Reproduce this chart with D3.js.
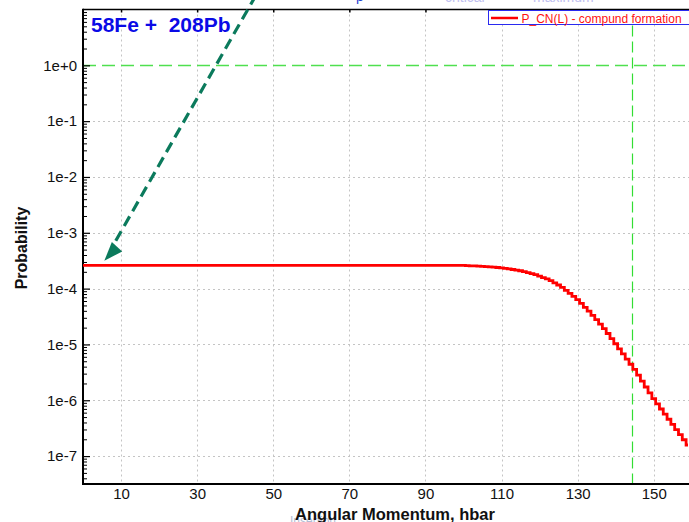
<!DOCTYPE html>
<html>
<head>
<meta charset="utf-8">
<script src="https://cdn.jsdelivr.net/npm/d3@7/dist/d3.min.js"></script>
<style>
  html, body { margin: 0; padding: 0; background: #fff; }
  svg { display: block; font-family: "Liberation Sans", Arial, sans-serif; }
</style>
</head>
<body>
<svg id="chart" width="689" height="522"></svg>
<script>
// Compound-nucleus formation probability versus angular momentum
const reactionTitle = "58Fe +  208Pb";
const seriesName = "P_CN(L) - compund formation";
const xAxisTitle = "Angular Momentum, hbar";
const yAxisTitle = "Probability";

const angularMomentum = [
  0, 100, 101, 102, 103, 104, 105, 106, 107, 108, 109,
  110, 111, 112, 113, 114, 115, 116, 117, 118, 119,
  120, 121, 122, 123, 124, 125, 126, 127, 128, 129,
  130, 131, 132, 133, 134, 135, 136, 137, 138, 139,
  140, 141, 142, 143, 144, 145, 146, 147, 148, 149,
  150, 151, 152, 153, 154, 155, 156, 157, 158, 159
];
const probabilityCN = [
  2.60e-4, 2.60e-4, 2.58e-4, 2.56e-4, 2.55e-4, 2.53e-4, 2.51e-4, 2.48e-4, 2.45e-4, 2.42e-4, 2.39e-4,
  2.35e-4, 2.30e-4, 2.25e-4, 2.20e-4, 2.15e-4, 2.09e-4, 2.02e-4, 1.94e-4, 1.86e-4, 1.78e-4,
  1.68e-4, 1.58e-4, 1.49e-4, 1.39e-4, 1.27e-4, 1.16e-4, 1.05e-4, 9.33e-5, 8.22e-5, 7.24e-5,
  6.35e-5, 5.43e-5, 4.62e-5, 3.94e-5, 3.33e-5, 2.79e-5, 2.32e-5, 1.92e-5, 1.57e-5, 1.27e-5,
  1.03e-5, 8.34e-6, 6.75e-6, 5.46e-6, 4.42e-6, 3.57e-6, 2.81e-6, 2.20e-6, 1.73e-6, 1.36e-6,
  1.07e-6, 8.63e-7, 6.98e-7, 5.65e-7, 4.57e-7, 3.70e-7, 2.99e-7, 2.42e-7, 1.96e-7, 1.58e-7
];

const xTickValues = [10, 30, 50, 70, 90, 110, 130, 150];
const yTickValues = [1e0, 1e-1, 1e-2, 1e-3, 1e-4, 1e-5, 1e-6, 1e-7];
const xDomain = [0, 160];
const yDomain = [Math.pow(10, -7.5), 10];

const unitLevel = 1;          // horizontal reference at probability 1
const criticalL = 144.4;      // vertical reference on the angular momentum axis

// annotation arrow, in data units (tail above the frame, tip near the plateau)
const arrowTail = { l: 45.5, p: Math.pow(10, 1.26) };
const arrowTip = { l: 5.6, p: 3.15e-4 };

const svg = d3.select("#chart");
const plot = { left: 83, right: 691.8, top: 9.5, bottom: 484 };

const x = d3.scaleLinear().domain(xDomain).range([plot.left, plot.right]);
const y = d3.scaleLog().domain(yDomain).range([plot.bottom, plot.top]);

svg.append("defs").append("clipPath").attr("id", "plotClip")
  .append("rect")
  .attr("x", plot.left).attr("y", plot.top)
  .attr("width", plot.right - plot.left).attr("height", plot.bottom - plot.top);

// dotted grid (the unit level carries its own green line)
const grid = svg.append("g").attr("stroke", "#c4c4c4").attr("stroke-width", 1)
  .attr("stroke-dasharray", "2,3");
grid.selectAll("line.v").data(xTickValues).join("line")
  .attr("class", "v")
  .attr("x1", d => Math.round(x(d)) + 0.5).attr("x2", d => Math.round(x(d)) + 0.5)
  .attr("y1", plot.top).attr("y2", plot.bottom);
grid.selectAll("line.h").data(yTickValues.filter(d => d !== unitLevel)).join("line")
  .attr("class", "h")
  .attr("x1", plot.left).attr("x2", plot.right)
  .attr("y1", d => Math.round(y(d)) + 0.5).attr("y2", d => Math.round(y(d)) + 0.5);

// green reference lines
svg.append("line")
  .attr("x1", plot.left).attr("x2", plot.right)
  .attr("y1", Math.round(y(unitLevel)) + 0.5).attr("y2", Math.round(y(unitLevel)) + 0.5)
  .attr("stroke", "#4fe04f").attr("stroke-width", 1.4).attr("stroke-dasharray", "13,6");
svg.append("line")
  .attr("x1", Math.round(x(criticalL)) + 0.5).attr("x2", Math.round(x(criticalL)) + 0.5)
  .attr("y1", plot.top).attr("y2", plot.bottom)
  .attr("stroke", "#33dd33").attr("stroke-width", 1.2).attr("stroke-dasharray", "11,5");

// axes
const fmtExp = d => {
  const e = Math.round(Math.log10(d));
  return "1e" + (e >= 0 ? "+" + e : String(e));
};

const minorTicks = [];
for (let k = -8; k <= 0; k++) {
  for (let m = 2; m <= 9; m++) {
    const v = m * Math.pow(10, k);
    if (v > yDomain[0] && v < yDomain[1]) minorTicks.push(v);
  }
}

const yMinor = svg.append("g").attr("transform", `translate(${plot.left},0)`)
  .call(d3.axisLeft(y).tickValues(minorTicks).tickSize(-4).tickFormat(""));
yMinor.select(".domain").remove();
yMinor.selectAll(".tick line").attr("stroke", "#000").attr("stroke-width", 1);

const yAxis = svg.append("g").attr("transform", `translate(${plot.left},0)`)
  .call(d3.axisLeft(y).tickValues(yTickValues).tickSize(-7).tickPadding(6).tickFormat(fmtExp));
yAxis.select(".domain").remove();
yAxis.selectAll(".tick line").attr("stroke", "#000").attr("stroke-width", 1.2);
yAxis.selectAll(".tick text")
  .attr("font-family", "'Liberation Sans', Arial, sans-serif")
  .attr("font-size", 15).attr("fill", "#111");

const xAxis = svg.append("g").attr("transform", `translate(0,${plot.bottom})`)
  .call(d3.axisBottom(x).tickValues(xTickValues).tickSize(0).tickPadding(4).tickFormat(d3.format("d")));
xAxis.select(".domain").remove();
xAxis.selectAll(".tick text")
  .attr("font-family", "'Liberation Sans', Arial, sans-serif")
  .attr("font-size", 15).attr("fill", "#111");

const xTop = svg.append("g").attr("transform", `translate(0,${plot.top})`)
  .call(d3.axisTop(x).tickValues(xTickValues).tickSize(-3).tickFormat(""));
xTop.select(".domain").remove();
xTop.selectAll(".tick line").attr("stroke", "#000").attr("stroke-width", 1.5);

// frame
svg.append("line").attr("x1", plot.left).attr("x2", plot.right)
  .attr("y1", plot.top).attr("y2", plot.top)
  .attr("stroke", "#000").attr("stroke-width", 1.5);
svg.append("line").attr("x1", plot.left).attr("x2", plot.left)
  .attr("y1", plot.top - 0.75).attr("y2", plot.bottom + 1)
  .attr("stroke", "#000").attr("stroke-width", 2);
svg.append("line").attr("x1", plot.left - 1).attr("x2", plot.right)
  .attr("y1", plot.bottom).attr("y2", plot.bottom)
  .attr("stroke", "#000").attr("stroke-width", 2);

// P_CN(L) staircase
const series = angularMomentum.map((l, i) => ({ l, p: probabilityCN[i] }));
const stepLine = d3.line().x(d => x(d.l)).y(d => y(d.p)).curve(d3.curveStep);
svg.append("path")
  .datum(series)
  .attr("clip-path", "url(#plotClip)")
  .attr("fill", "none")
  .attr("stroke", "#ff0000")
  .attr("stroke-width", 2.8)
  .attr("d", stepLine);

// reaction label
svg.append("text")
  .attr("x", 91).attr("y", 31.5)
  .attr("font-size", 21).attr("font-weight", "bold")
  .attr("fill", "#0a0ae6")
  .attr("xml:space", "preserve")
  .style("white-space", "pre")
  .text(reactionTitle);

// annotation arrow
const tx = x(arrowTail.l), ty = y(arrowTail.p);
const hx = x(arrowTip.l), hy = y(arrowTip.p);
const headDir = [-0.67, 0.74];
const headLen = 19, headHalf = 7;
const bx = hx - headDir[0] * headLen, by = hy - headDir[1] * headLen;
const lineDx = hx - tx, lineDy = hy - ty;
const lineLen = Math.hypot(lineDx, lineDy);
const endT = (lineLen - 16) / lineLen;
svg.append("line")
  .attr("x1", tx).attr("y1", ty)
  .attr("x2", tx + lineDx * endT).attr("y2", ty + lineDy * endT)
  .attr("stroke", "#0b7a5c").attr("stroke-width", 3.2)
  .attr("stroke-dasharray", "11,6");
svg.append("path")
  .attr("d", d3.line()([
    [hx, hy],
    [bx + headDir[1] * headHalf, by - headDir[0] * headHalf],
    [bx - headDir[1] * headHalf, by + headDir[0] * headHalf]
  ]) + "Z")
  .attr("fill", "#0b7a5c");

// legend
const legend = svg.append("g");
legend.append("rect")
  .attr("x", 488.5).attr("y", 10.5).attr("width", 215).attr("height", 14)
  .attr("fill", "#fff").attr("stroke", "#2a2af0").attr("stroke-width", 1);
legend.append("line")
  .attr("x1", 491).attr("x2", 518).attr("y1", 18).attr("y2", 18)
  .attr("stroke", "#ff0000").attr("stroke-width", 2.5);
legend.append("text")
  .attr("x", 521.5).attr("y", 22.5)
  .attr("font-size", 12).attr("fill", "#ff1010")
  .text(seriesName);

// axis titles
svg.append("text")
  .attr("transform", "translate(27,248) rotate(-90)")
  .attr("text-anchor", "middle")
  .attr("font-size", 16).attr("font-weight", "bold").attr("fill", "#111")
  .text(yAxisTitle);

svg.append("text")
  .attr("x", 290).attr("y", 525)
  .attr("font-size", 12).attr("fill", "#b4bcd4")
  .text("Insertion");
svg.append("text")
  .attr("x", 395).attr("y", 520)
  .attr("text-anchor", "middle")
  .attr("font-size", 16.5).attr("font-weight", "bold").attr("fill", "#111")
  .text(xAxisTitle);

// partly hidden captions along the top edge
svg.append("text").attr("x", 356).attr("y", 0.5)
  .attr("font-size", 14).attr("fill", "#1f3fd0").text("p");
svg.append("text").attr("x", 445).attr("y", 1.5)
  .attr("font-size", 14).attr("fill", "#c0c0f0").text("critical");
svg.append("text").attr("x", 533).attr("y", 1.5)
  .attr("font-size", 14).attr("fill", "#c0c0f0").text("maximum");
</script>
</body>
</html>
